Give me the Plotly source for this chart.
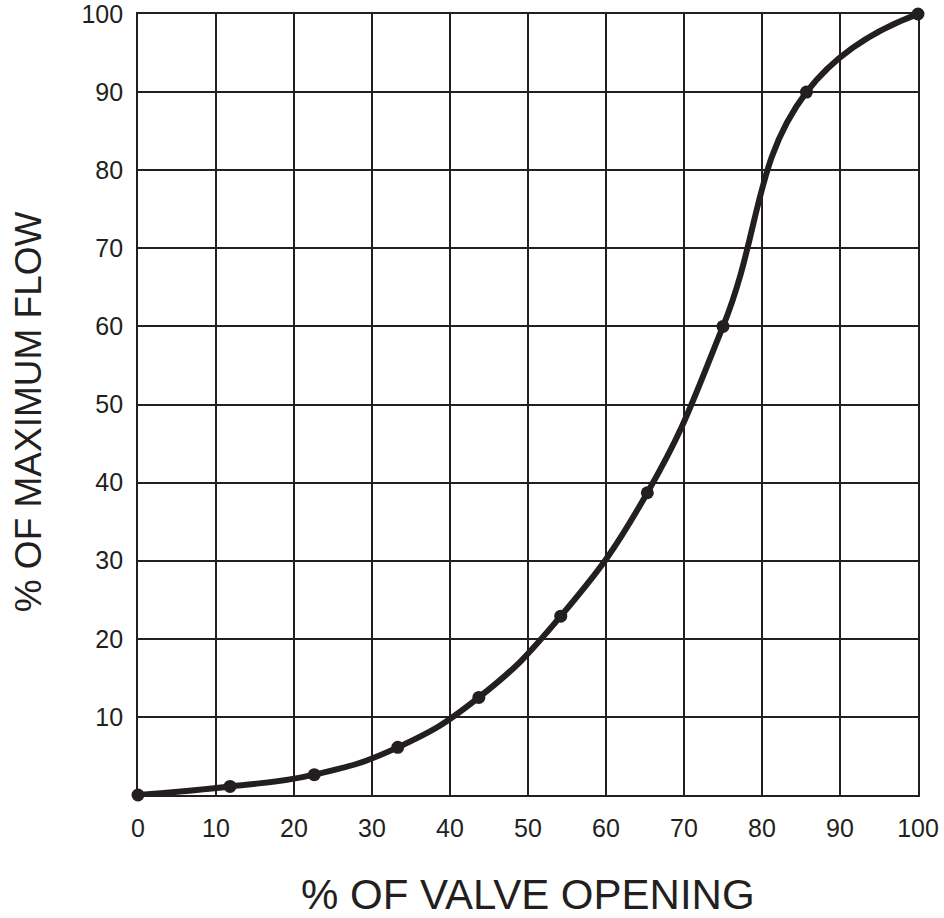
import plotly.graph_objects as go

valve_opening = [0, 11.8, 22.6, 33.3, 43.7, 54.2, 65.3, 75.0, 85.7, 100]
max_flow = [0, 1.1, 2.6, 6.1, 12.5, 22.9, 38.7, 60.0, 90.0, 100]
x_ticks = [0, 10, 20, 30, 40, 50, 60, 70, 80, 90, 100]
y_ticks = [10, 20, 30, 40, 50, 60, 70, 80, 90, 100]
x_title = "% OF VALVE OPENING"
y_title = "% OF MAXIMUM FLOW"

ink = "#231f20"
font_family = "Liberation Sans, Arial, Helvetica, sans-serif"

fig = go.Figure(go.Scatter(
    x=valve_opening, y=max_flow,
    mode="lines+markers",
    line=dict(color=ink, width=6, shape="spline", smoothing=1.3),
    marker=dict(color=ink, size=13),
    cliponaxis=False,
))

fig.update_layout(
    width=944, height=918,
    margin=dict(l=138, r=26, t=14, b=123, autoexpand=False),
    paper_bgcolor="white", plot_bgcolor="white",
    showlegend=False,
    font=dict(family=font_family, color=ink, size=25),
    annotations=[
        dict(text=x_title, xref="paper", yref="paper", x=0.5, y=-0.127,
             xanchor="center", yanchor="middle", showarrow=False,
             font=dict(size=42, color=ink, family=font_family)),
        dict(text=y_title, xref="paper", yref="paper", x=-0.141, y=0.49,
             xanchor="center", yanchor="middle", showarrow=False, textangle=-90,
             font=dict(size=37, color=ink, family=font_family)),
    ],
)
fig.update_xaxes(
    range=[0, 100], tickvals=x_ticks, ticktext=[str(v) for v in x_ticks],
    showgrid=True, gridcolor=ink, gridwidth=1.8, automargin=False,
    showline=True, linecolor=ink, linewidth=1.8, mirror=True,
    zeroline=False, ticks="", ticklabelstandoff=10, ticklabeloverflow="allow",
    tickfont=dict(size=25, color=ink),
)
fig.update_yaxes(
    range=[0, 100], tickvals=y_ticks, ticktext=[str(v) for v in y_ticks],
    showgrid=True, gridcolor=ink, gridwidth=1.8, automargin=False,
    showline=True, linecolor=ink, linewidth=1.8, mirror=True,
    zeroline=False, ticks="", ticklabelstandoff=8, ticklabeloverflow="allow",
    tickfont=dict(size=25, color=ink),
)

fig.write_html("out.html", config={"displayModeBar": False},
               post_script="document.body.style.margin='0';")
